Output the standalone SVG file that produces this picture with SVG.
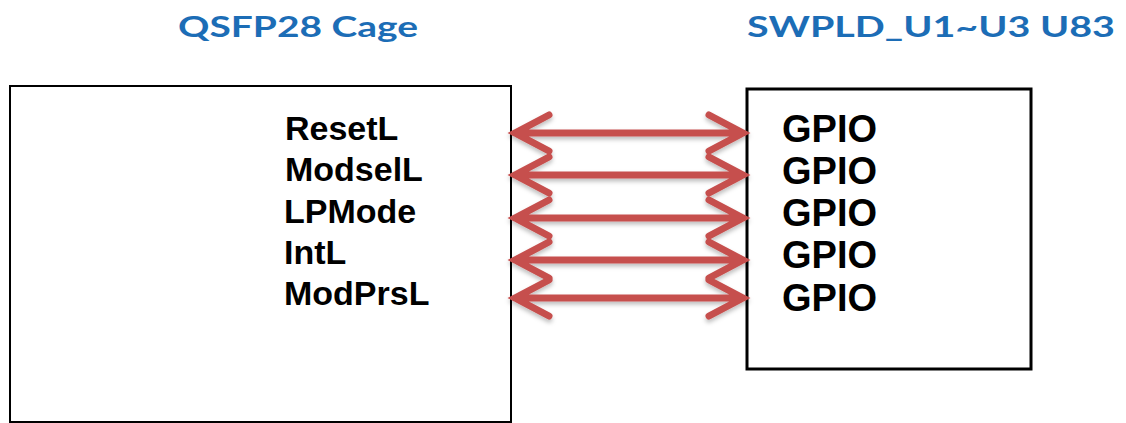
<svg xmlns="http://www.w3.org/2000/svg" width="1126" height="423" viewBox="0 0 1126 423">
  <defs>
    <filter id="soft-shadow" x="-5%" y="-50%" width="110%" height="200%">
      <feDropShadow dx="0" dy="3" stdDeviation="2" flood-color="#000" flood-opacity="0.25"/>
    </filter>
  </defs>
  <style>
    .title { font-family: "Lato", "Open Sans", sans-serif; font-weight: bold; font-size: 29px; fill: #1C6DB6; }
    .box { fill: #fff; stroke: #000; }
    .sig { font-family: "Liberation Sans", Arial, sans-serif; font-weight: bold; font-size: 34px; fill: #000; }
    .gpio { font-family: "Liberation Sans", Arial, sans-serif; font-weight: bold; font-size: 38px; fill: #000; }
    .link { fill: none; stroke: #C6504E; stroke-width: 7; stroke-linecap: round; stroke-linejoin: miter; }
  </style>

  <rect width="1126" height="423" fill="#fff"/>

  <!-- QSFP28 cage block -->
  <g id="qsfp28-cage">
    <text class="title" x="178" y="37" textLength="240" lengthAdjust="spacingAndGlyphs">QSFP28 Cage</text>
    <rect class="box" x="10" y="86" width="501" height="336" stroke-width="2"/>
    <text class="sig" x="285" y="139.5">ResetL</text>
    <text class="sig" x="285" y="181">ModselL</text>
    <text class="sig" x="284" y="222.5">LPMode</text>
    <text class="sig" x="284" y="264">IntL</text>
    <text class="sig" x="284" y="305">ModPrsL</text>
  </g>

  <!-- SWPLD block -->
  <g id="swpld">
    <text class="title" x="747" y="37" textLength="368" lengthAdjust="spacingAndGlyphs">SWPLD_U1~U3 U83</text>
    <rect class="box" x="747" y="89" width="284" height="280" stroke-width="3"/>
    <text class="gpio" x="782" y="142">GPIO</text>
    <text class="gpio" x="782" y="184">GPIO</text>
    <text class="gpio" x="782" y="226">GPIO</text>
    <text class="gpio" x="782" y="268">GPIO</text>
    <text class="gpio" x="782" y="311">GPIO</text>
  </g>

  <!-- bidirectional signal links -->
  <g id="connectors" filter="url(#soft-shadow)">
    <g class="link">
      <path d="M515,133 H743 M549,115 L515,133 L549,151 M709,115 L743,133 L709,151"/>
      <path d="M515,175 H743 M549,157 L515,175 L549,193 M709,157 L743,175 L709,193"/>
      <path d="M515,218 H743 M549,200 L515,218 L549,236 M709,200 L743,218 L709,236"/>
      <path d="M515,260 H743 M549,242 L515,260 L549,278 M709,242 L743,260 L709,278"/>
      <path d="M515,298 H743 M549,280 L515,298 L549,316 M709,280 L743,298 L709,316"/>
    </g>
  </g>
</svg>
